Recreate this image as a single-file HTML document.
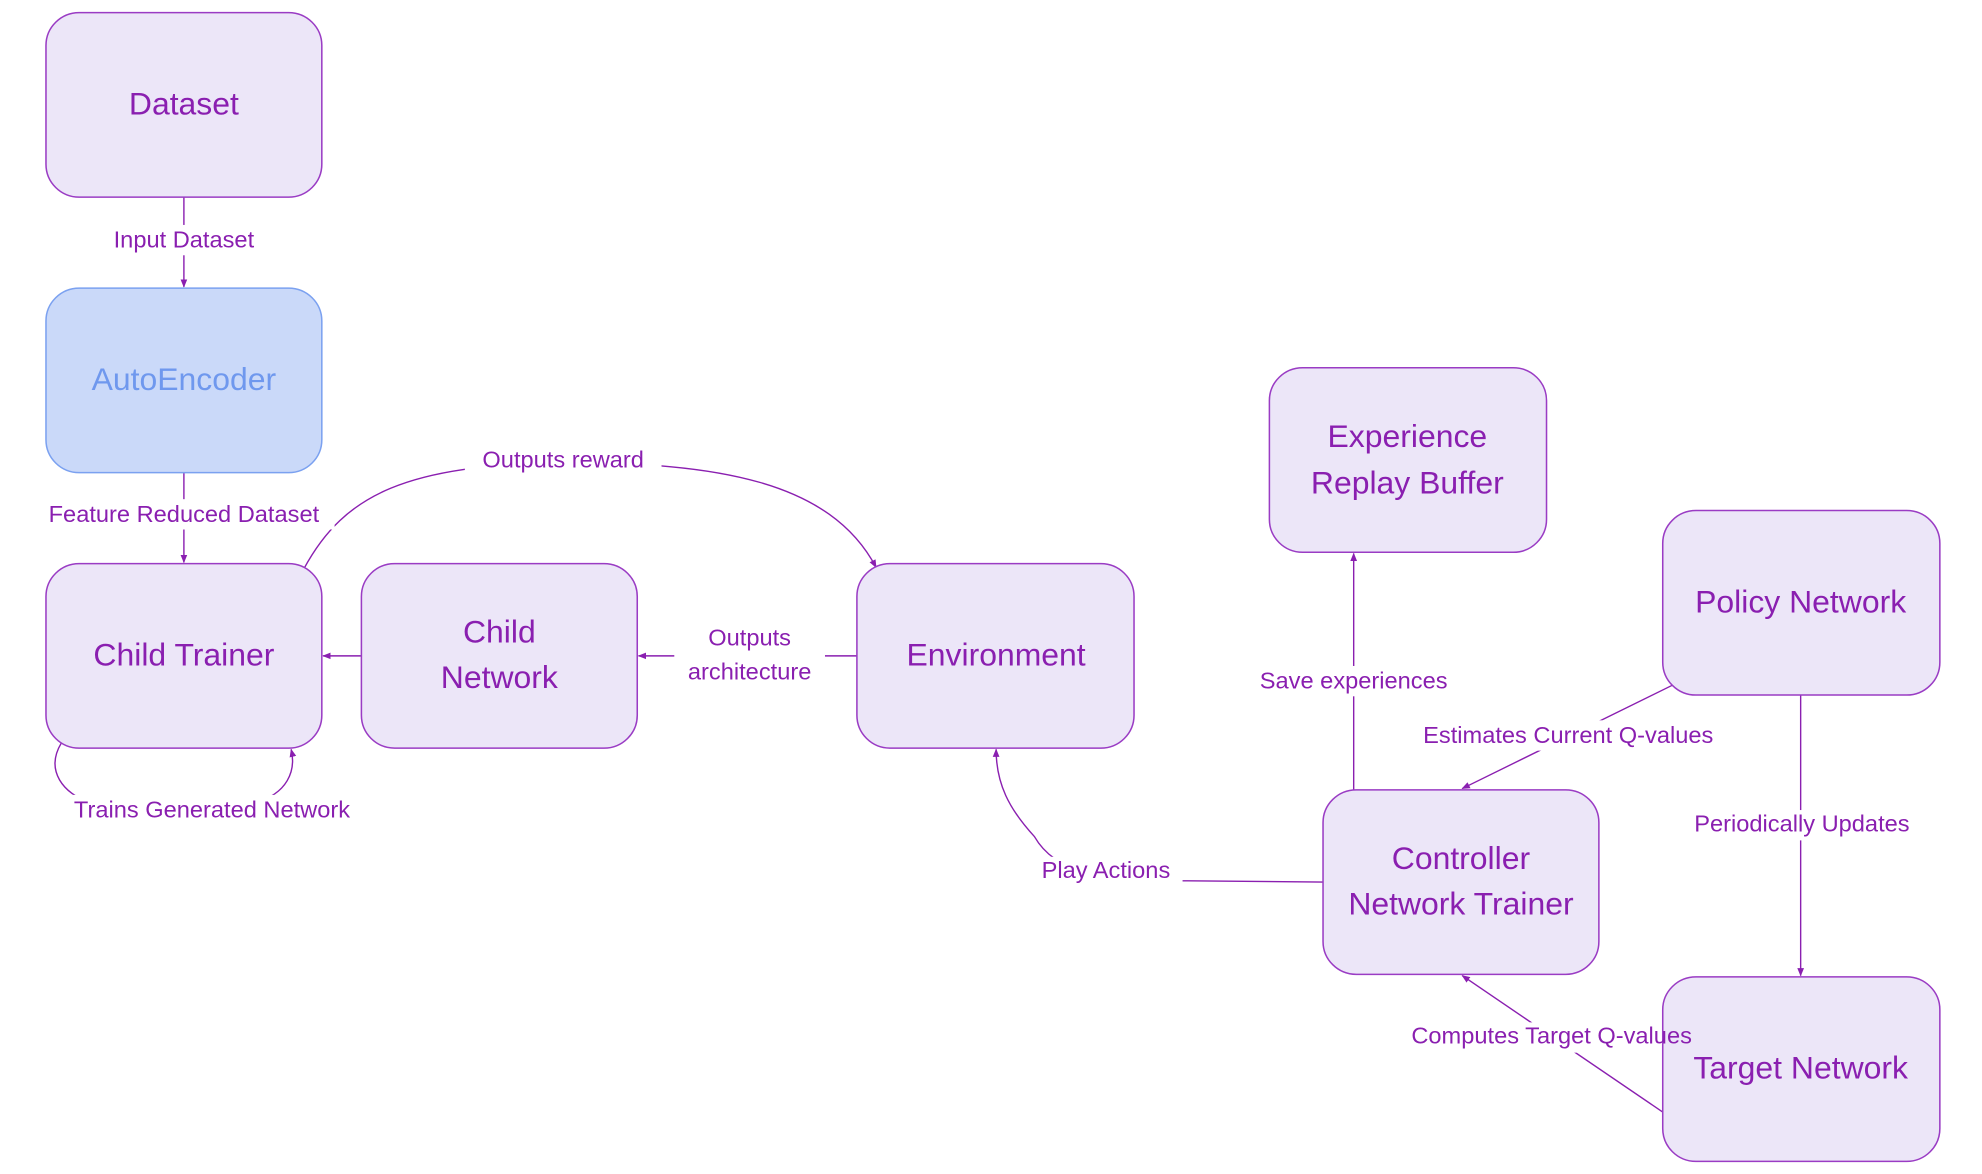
<!DOCTYPE html>
<html><head><meta charset="utf-8"><style>
html,body{margin:0;padding:0;background:#fff;}
svg{display:block}
text{font-family:"Liberation Sans","Noto Sans CJK SC",sans-serif;}
.n{fill:#ece6f8;stroke:#9a3cc4;stroke-width:1.2}
.t{fill:#8a1fb0;font-size:25px;text-anchor:middle;dominant-baseline:middle}
.l{fill:#8a1fb0;font-size:18.5px;text-anchor:middle;dominant-baseline:middle}
.e{fill:none;stroke:#8a1fb0;stroke-width:1.1}
.bg{fill:#fff}
</style></head><body>
<svg width="1982" height="1174" viewBox="0 0 1552 929" preserveAspectRatio="none">
<defs><marker id="a" viewBox="0 0 10 10" refX="9" refY="5" markerWidth="6" markerHeight="6" orient="auto"><path d="M0,1 L10,5 L0,9 z" fill="#8a1fb0"/></marker></defs>
<!-- edges -->
<path class="e" d="M144,156 L144,227" marker-end="url(#a)"/>
<path class="e" d="M144,374 L144,445" marker-end="url(#a)"/>
<path class="e" d="M238,450 C270,390 320,368 441,366 C560,366 650,380 686,449" marker-end="url(#a)"/>
<path class="e" d="M283,519 L253,519" marker-end="url(#a)"/>
<path class="e" d="M671,519 L500,519" marker-end="url(#a)"/>
<path class="e" d="M48,588 C35,610 50,628 70,635 L200,635 C225,628 232,610 228,593" marker-end="url(#a)"/>
<path class="e" d="M1036,698 L930,697 C860,697 826,690 810,662 C790,640 780,620 780,593" marker-end="url(#a)"/>
<path class="e" d="M1060,625 L1060,438" marker-end="url(#a)"/>
<path class="e" d="M1310,542 L1145,624" marker-end="url(#a)"/>
<path class="e" d="M1410,550 L1410,772" marker-end="url(#a)"/>
<path class="e" d="M1302,880 L1145,772" marker-end="url(#a)"/>
<!-- nodes -->
<rect class="n" x="36" y="10" width="216" height="146" rx="26"/>
<text class="t" x="144" y="84">Dataset</text>
<rect x="36" y="228" width="216" height="146" rx="26" fill="#cad9f9" stroke="#7ba1f0" stroke-width="1.2"/>
<text class="t" x="144" y="302" style="fill:#6f98ee">AutoEncoder</text>
<rect class="n" x="36" y="446" width="216" height="146" rx="26"/>
<text class="t" x="144" y="520">Child Trainer</text>
<rect class="n" x="283" y="446" width="216" height="146" rx="26"/>
<text class="t" x="391" y="502">Child</text><text class="t" x="391" y="538">Network</text>
<rect class="n" x="671" y="446" width="217" height="146" rx="26"/>
<text class="t" x="780" y="520">Environment</text>
<rect class="n" x="994" y="291" width="217" height="146" rx="26"/>
<text class="t" x="1102" y="347">Experience</text><text class="t" x="1102" y="384">Replay Buffer</text>
<rect class="n" x="1302" y="404" width="217" height="146" rx="26"/>
<text class="t" x="1410" y="478">Policy Network</text>
<rect class="n" x="1036" y="625" width="216" height="146" rx="26"/>
<text class="t" x="1144" y="681">Controller</text><text class="t" x="1144" y="717">Network Trainer</text>
<rect class="n" x="1302" y="773" width="217" height="146" rx="26"/>
<text class="t" x="1410" y="847">Target Network</text>
<!-- labels -->
<rect class="bg" x="78" y="178" width="132" height="24"/><text class="l" x="144" y="191">Input Dataset</text>
<rect class="bg" x="26" y="395" width="236" height="24"/><text class="l" x="144" y="408">Feature Reduced Dataset</text>
<rect class="bg" x="364" y="353" width="154" height="24"/><text class="l" x="441" y="365">Outputs reward</text>
<rect class="bg" x="528" y="492" width="118" height="54"/><text class="l" x="587" y="506">Outputs</text><text class="l" x="587" y="533">architecture</text>
<rect class="bg" x="42" y="629" width="248" height="24"/><text class="l" x="166" y="642">Trains Generated Network</text>
<rect class="bg" x="808" y="678" width="118" height="24"/><text class="l" x="866" y="690">Play Actions</text>
<rect class="bg" x="978" y="527" width="164" height="24"/><text class="l" x="1060" y="540">Save experiences</text>
<rect class="bg" x="1100" y="570" width="256" height="24"/><text class="l" x="1228" y="583">Estimates Current Q-values</text>
<rect class="bg" x="1314" y="641" width="194" height="24"/><text class="l" x="1411" y="653">Periodically Updates</text>
<rect class="bg" x="1092" y="809" width="160" height="24"/><text class="l" x="1215" y="821">Computes Target Q-values</text>
</svg>
</body></html>
